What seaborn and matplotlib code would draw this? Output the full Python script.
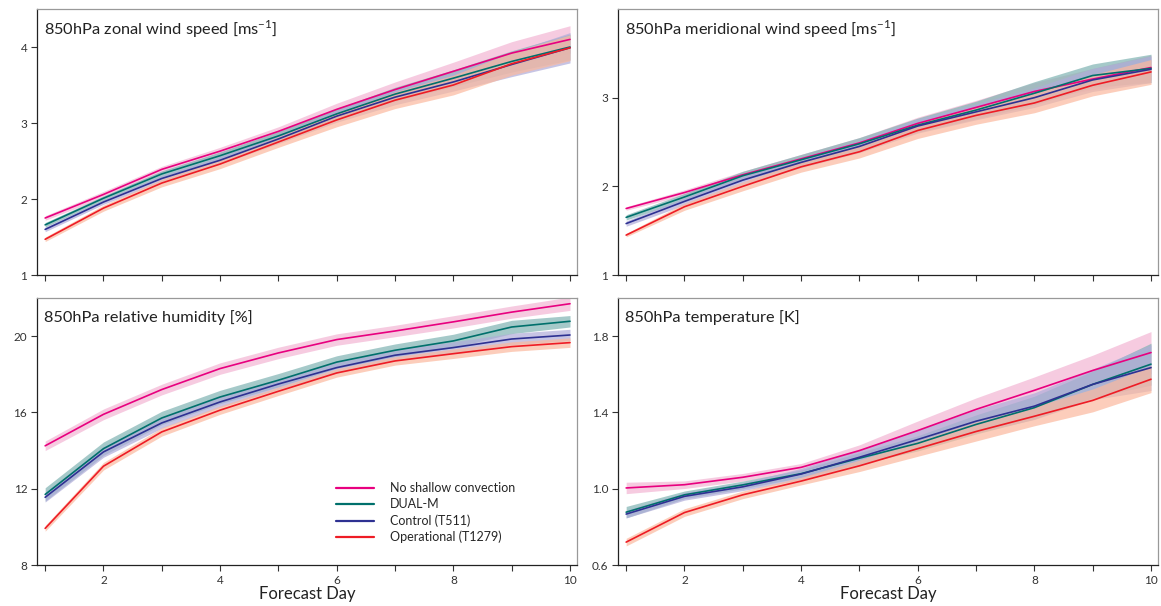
import numpy as np
import pandas as pd
import seaborn as sns
import matplotlib
matplotlib.use("Agg")
import matplotlib.pyplot as plt
from matplotlib.lines import Line2D

# Forecast lead time (days)
days = [1, 2, 3, 4, 5, 6, 7, 8, 9, 10]

experiments = ["No shallow convection", "DUAL-M", "Control (T511)", "Operational (T1279)"]

# 850 hPa zonal wind speed errors [m/s]
zonal_noshallow = [1.75, 2.06, 2.39, 2.63, 2.89, 3.18, 3.44, 3.68, 3.92, 4.10]
zonal_dualm     = [1.66, 2.01, 2.33, 2.57, 2.83, 3.12, 3.38, 3.59, 3.81, 4.00]
zonal_control   = [1.60, 1.96, 2.27, 2.51, 2.79, 3.09, 3.34, 3.54, 3.77, 3.99]
zonal_oper      = [1.47, 1.88, 2.21, 2.46, 2.75, 3.04, 3.30, 3.50, 3.78, 3.99]
zonal_noshallow_sd = [0.03, 0.04, 0.04, 0.05, 0.06, 0.08, 0.10, 0.12, 0.15, 0.18]
zonal_dualm_sd     = [0.03, 0.03, 0.04, 0.05, 0.06, 0.07, 0.09, 0.11, 0.14, 0.17]
zonal_control_sd   = [0.03, 0.03, 0.04, 0.05, 0.06, 0.08, 0.10, 0.12, 0.16, 0.20]
zonal_oper_sd      = [0.03, 0.04, 0.05, 0.06, 0.07, 0.09, 0.11, 0.13, 0.15, 0.17]

# 850 hPa meridional wind speed errors [m/s]
merid_noshallow = [1.75, 1.93, 2.13, 2.31, 2.49, 2.71, 2.89, 3.07, 3.21, 3.34]
merid_dualm     = [1.65, 1.88, 2.12, 2.30, 2.48, 2.69, 2.86, 3.05, 3.25, 3.33]
merid_control   = [1.58, 1.83, 2.07, 2.27, 2.45, 2.68, 2.84, 3.00, 3.20, 3.32]
merid_oper      = [1.45, 1.77, 2.00, 2.22, 2.39, 2.63, 2.80, 2.94, 3.14, 3.29]
merid_noshallow_sd = [0.02, 0.03, 0.04, 0.05, 0.06, 0.07, 0.08, 0.10, 0.12, 0.14]
merid_dualm_sd     = [0.03, 0.04, 0.05, 0.06, 0.07, 0.08, 0.10, 0.13, 0.13, 0.16]
merid_control_sd   = [0.03, 0.04, 0.05, 0.06, 0.07, 0.08, 0.09, 0.11, 0.13, 0.15]
merid_oper_sd      = [0.02, 0.04, 0.05, 0.06, 0.07, 0.09, 0.10, 0.11, 0.12, 0.14]

# 850 hPa relative humidity errors [%]
rh_noshallow = [14.25, 15.90, 17.20, 18.30, 19.12, 19.82, 20.27, 20.75, 21.26, 21.70]
rh_dualm     = [11.70, 14.10, 15.71, 16.81, 17.69, 18.64, 19.26, 19.75, 20.48, 20.78]
rh_control   = [11.55, 13.93, 15.45, 16.55, 17.49, 18.35, 19.00, 19.40, 19.85, 20.06]
rh_oper      = [9.92, 13.18, 14.98, 16.12, 17.11, 18.07, 18.70, 19.08, 19.45, 19.66]
rh_noshallow_sd = [0.25, 0.28, 0.28, 0.30, 0.30, 0.30, 0.30, 0.32, 0.32, 0.35]
rh_dualm_sd     = [0.35, 0.35, 0.35, 0.35, 0.35, 0.33, 0.33, 0.35, 0.35, 0.30]
rh_control_sd   = [0.25, 0.28, 0.28, 0.28, 0.28, 0.28, 0.28, 0.30, 0.30, 0.30]
rh_oper_sd      = [0.15, 0.20, 0.22, 0.22, 0.22, 0.22, 0.22, 0.25, 0.25, 0.25]

# 850 hPa temperature errors [K]
temp_noshallow = [1.004, 1.021, 1.060, 1.112, 1.200, 1.305, 1.416, 1.516, 1.620, 1.714]
temp_dualm     = [0.877, 0.968, 1.020, 1.079, 1.160, 1.238, 1.337, 1.425, 1.547, 1.653]
temp_control   = [0.867, 0.960, 1.010, 1.077, 1.165, 1.258, 1.354, 1.433, 1.547, 1.635]
temp_oper      = [0.720, 0.875, 0.968, 1.040, 1.120, 1.210, 1.300, 1.380, 1.463, 1.574]
temp_noshallow_sd = [0.03, 0.02, 0.02, 0.02, 0.03, 0.05, 0.06, 0.07, 0.08, 0.11]
temp_dualm_sd     = [0.03, 0.02, 0.02, 0.02, 0.03, 0.04, 0.05, 0.06, 0.07, 0.11]
temp_control_sd   = [0.02, 0.02, 0.02, 0.03, 0.04, 0.05, 0.06, 0.07, 0.08, 0.12]
temp_oper_sd      = [0.02, 0.02, 0.02, 0.02, 0.03, 0.04, 0.05, 0.05, 0.06, 0.07]

line_colors = ["#e8007f", "#00706c", "#2e3192", "#ee1c25"]
band_colors = ["#f3b5d4", "#7fb3b2", "#b0acd9", "#fbb99e"]

sns.set_theme(style="ticks")
plt.rcParams["font.family"] = ["Lato", "DejaVu Sans"]
plt.rcParams["mathtext.fontset"] = "custom"
plt.rcParams["mathtext.rm"] = "Lato"

fig = plt.figure(figsize=(11.61, 6.06), dpi=100)

W, H = 1161, 606
def box(l, r, t, b):
    return [l / W, 1 - b / H, (r - l) / W, (b - t) / H]

panels = [
    dict(pos=box(37, 577, 9, 275), title="850hPa zonal wind speed [ms$^{\\mathregular{-1}}$]",
         means=[zonal_noshallow, zonal_dualm, zonal_control, zonal_oper],
         sds=[zonal_noshallow_sd, zonal_dualm_sd, zonal_control_sd, zonal_oper_sd],
         ylim=(1, 4.5), yticks=[1, 2, 3, 4], yfmt="{:.0f}", bottom=False),
    dict(pos=box(618, 1158, 9, 275), title="850hPa meridional wind speed [ms$^{\\mathregular{-1}}$]",
         means=[merid_noshallow, merid_dualm, merid_control, merid_oper],
         sds=[merid_noshallow_sd, merid_dualm_sd, merid_control_sd, merid_oper_sd],
         ylim=(1, 4.0), yticks=[1, 2, 3], yfmt="{:.0f}", bottom=False),
    dict(pos=box(37, 577, 298, 565), title="850hPa relative humidity [%]",
         means=[rh_noshallow, rh_dualm, rh_control, rh_oper],
         sds=[rh_noshallow_sd, rh_dualm_sd, rh_control_sd, rh_oper_sd],
         ylim=(8, 22), yticks=[8, 12, 16, 20], yfmt="{:.0f}", bottom=True),
    dict(pos=box(618, 1158, 298, 565), title="850hPa temperature [K]",
         means=[temp_noshallow, temp_dualm, temp_control, temp_oper],
         sds=[temp_noshallow_sd, temp_dualm_sd, temp_control_sd, temp_oper_sd],
         ylim=(0.6, 2.0), yticks=[0.6, 1.0, 1.4, 1.8], yfmt="{:.1f}", bottom=True),
]

axes = []
for p in panels:
    ax = fig.add_axes(p["pos"])
    axes.append(ax)
    # uncertainty bands
    for mean, sd, bc in zip(p["means"], p["sds"], band_colors):
        m = np.array(mean); s = np.array(sd)
        ax.fill_between(days, m - s, m + s, color=bc, alpha=0.7, lw=0, zorder=1)
    # mean error curves
    frames = [pd.DataFrame({"day": days, "error": mean, "experiment": name})
              for mean, name in zip(p["means"], experiments)]
    df = pd.concat(frames, ignore_index=True)
    sns.lineplot(data=df, x="day", y="error", hue="experiment", hue_order=experiments,
                 palette=line_colors, linewidth=1.2, ax=ax, legend=False, zorder=3)
    ax.set_xlim(0.86, 10.12)
    ax.set_ylim(*p["ylim"])
    ax.set_xticks(days)
    if p["bottom"]:
        ax.set_xticklabels([str(d) if d % 2 == 0 else "" for d in days])
        ax.set_xlabel("Forecast Day", fontsize=12, color="#222222", labelpad=0)
    else:
        ax.set_xticklabels([])
        ax.set_xlabel("")
    ax.set_yticks(p["yticks"])
    ax.set_yticklabels([p["yfmt"].format(v) for v in p["yticks"]])
    ax.set_ylabel("")
    ax.tick_params(axis="both", direction="out", length=4, width=0.8, colors="#333333",
                   labelsize=8.5, pad=3)
    for side in ["left", "bottom"]:
        ax.spines[side].set_color("#222222")
        ax.spines[side].set_linewidth(0.9)
    for side in ["top", "right"]:
        ax.spines[side].set_visible(True)
        ax.spines[side].set_color("#999999")
        ax.spines[side].set_linewidth(0.9)
    ax.text(7 / 540, 0.925, p["title"], transform=ax.transAxes, fontsize=11.8,
            color="#222222", ha="left", va="center")

# legend in the humidity panel
handles = [Line2D([], [], color=c, lw=1.6) for c in line_colors]
axes[2].legend(handles, experiments, loc="lower left", bbox_to_anchor=(0.545, 0.062),
               frameon=False, fontsize=9, handlelength=3.0, handletextpad=1.3,
               labelspacing=0.32, borderaxespad=0)

fig.savefig("out.png", dpi=100)
